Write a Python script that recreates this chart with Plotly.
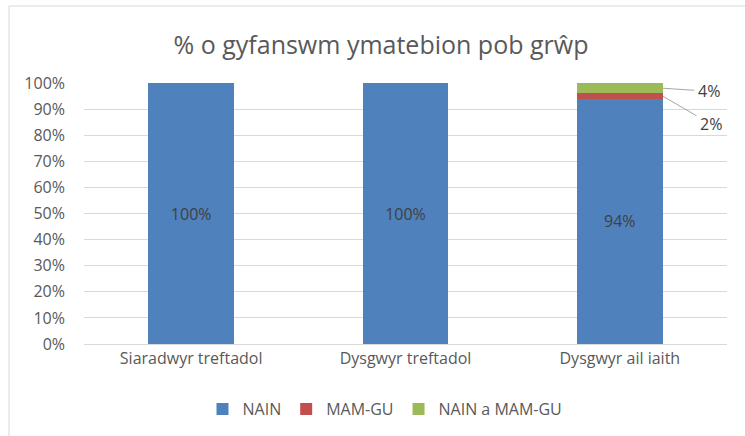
import plotly.graph_objects as go

categories = ["Siaradwyr treftadol", "Dysgwyr treftadol", "Dysgwyr ail iaith"]
series_names = ["NAIN", "MAM-GU", "NAIN a MAM-GU"]
nain = [100, 100, 94]
mamgu = [0, 0, 2]
nain_mamgu = [0, 0, 4]
colors = ["#4F81BD", "#C0504D", "#9BBB59"]
y_ticks = [0, 10, 20, 30, 40, 50, 60, 70, 80, 90, 100]
y_tick_labels = [f"{v}%" for v in y_ticks]

W, H = 745, 436
ml, mr, mt, mb = 84, 18, 83, 92
pw, ph = W - ml - mr, H - mt - mb
txt = "#595959"
font = "Open Sans, Calibri, Carlito, sans-serif"

fig = go.Figure()
values = [nain, mamgu, nain_mamgu]
for name, vals, col in zip(series_names, values, colors):
    labels = [f"{v}%" if (name == "NAIN" and v > 0) else "" for v in vals]
    fig.add_trace(go.Bar(
        x=categories, y=vals, name=name, marker_color=col,
        marker_line_width=0,
        text=labels, textposition="inside", insidetextanchor="middle",
        textfont=dict(color="#404040", size=16, family=font),
        hoverinfo="skip",
    ))

# outside labels with leader lines for the small segments in the last bar
idx = 2
base = nain[idx]
mid_red = base + mamgu[idx] / 2
mid_green = base + mamgu[idx] + nain_mamgu[idx] / 2
fig.add_annotation(x=idx + 0.2, y=mid_green, text=f"{nain_mamgu[idx]}%",
                   showarrow=True, arrowhead=0, arrowwidth=1, arrowcolor="#A6A6A6",
                   ax=46, ay=3, standoff=0, startstandoff=2,
                   font=dict(size=16, color="#404040", family=font))
fig.add_annotation(x=idx + 0.2, y=mid_red, text=f"{mamgu[idx]}%",
                   showarrow=True, arrowhead=0, arrowwidth=1, arrowcolor="#A6A6A6",
                   ax=48, ay=28, standoff=0, startstandoff=2,
                   font=dict(size=16, color="#404040", family=font))

# chart outer border
fig.add_shape(type="rect", xref="paper", yref="paper",
              x0=(9 - ml) / pw, x1=(W + 20 - ml) / pw,
              y0=(H - mb - (H + 20)) / ph, y1=(H - mb - 6) / ph,
              line=dict(color="#D9D9D9", width=1), fillcolor="rgba(0,0,0,0)")

fig.update_layout(
    width=W, height=H,
    margin=dict(l=ml, r=mr, t=mt, b=mb, autoexpand=False),
    barmode="stack", bargap=0.6,
    paper_bgcolor="white", plot_bgcolor="white",
    title=dict(text="% o gyfanswm ymatebion pob grŵp", xref="container",
               x=381 / W, xanchor="center",
               y=1 - 45 / H, yanchor="middle",
               font=dict(size=25, color=txt, family=font)),
    font=dict(family=font, color=txt, size=16),
    legend=dict(orientation="h", x=(385 - ml) / pw, xanchor="center",
                y=-(409 - (H - mb)) / ph,
                yanchor="middle", font=dict(size=16, color=txt, family=font),
                itemwidth=30, traceorder="normal"),
    xaxis=dict(showgrid=False, showline=True, linecolor="#D9D9D9", ticks="",
               tickfont=dict(size=16, color=txt), automargin=False),
    yaxis=dict(range=[0, 100], tickvals=y_ticks, ticktext=y_tick_labels,
               showgrid=True, gridcolor="#D9D9D9", zeroline=False, showline=False,
               tickfont=dict(size=16, color=txt), ticklabelstandoff=18,
               automargin=False),
)

fig.write_html("out.html", config={"displayModeBar": False},
               post_script="document.body.style.margin='0';")
